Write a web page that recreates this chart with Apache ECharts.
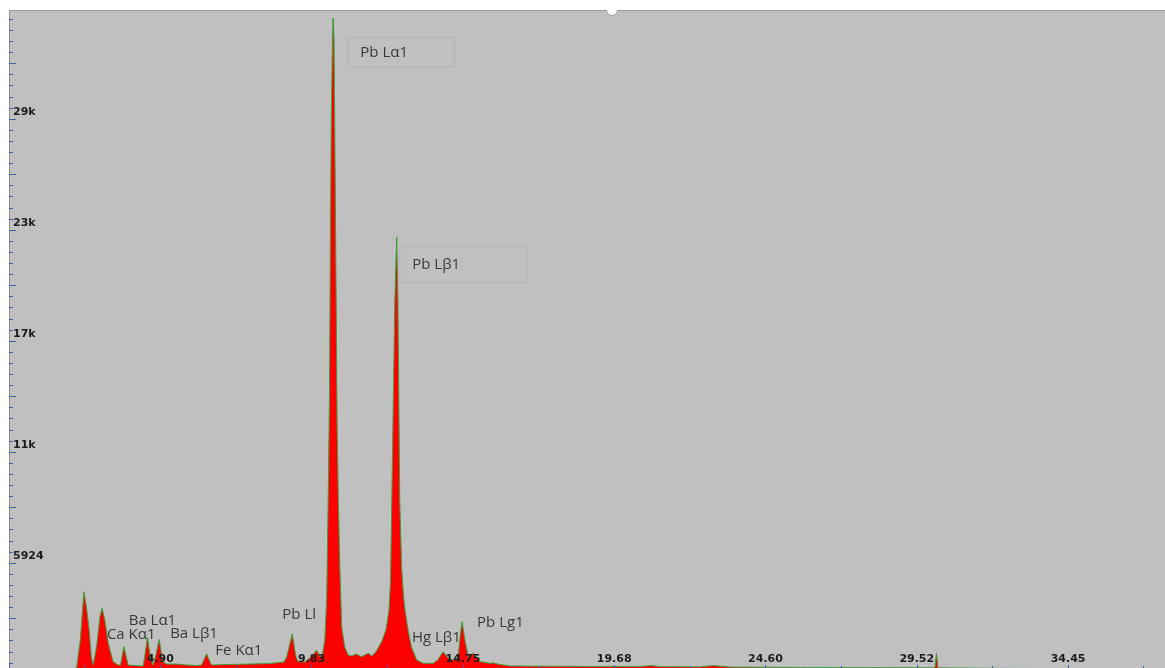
<!DOCTYPE html>
<html>
<head>
<meta charset="utf-8">
<script src="https://cdn.jsdelivr.net/npm/echarts@6/dist/echarts.min.js"></script>
<style>
  html, body { margin: 0; padding: 0; background: #ffffff; }
  #chart { width: 1165px; height: 668px; }
</style>
</head>
<body>
<div id="chart"></div>
<script>
// X-ray fluorescence spectrum: energy (keV) against counts
const energyKeV = [
  0.00, 0.60, 1.20, 1.70, 2.05, 2.20, 2.32, 2.44, 2.52, 2.61, 2.68, 2.74,
  2.85, 2.96, 3.03, 3.12, 3.23, 3.39, 3.55,
  3.63, 3.74, 3.88, 4.26,
  4.37, 4.51, 4.61, 4.69,
  4.78, 4.89, 5.00, 5.13,
  5.45, 5.78, 6.10,
  6.27, 6.43, 6.59,
  7.19, 7.84, 8.49, 8.95, 9.04, 9.22, 9.34, 9.41, 9.63, 9.90, 10.01, 10.12,
  10.20, 10.28, 10.34, 10.39, 10.43, 10.46, 10.49, 10.53, 10.55, 10.58, 10.61, 10.65, 10.68, 10.72, 10.77, 10.83, 10.93, 11.04,
  11.16, 11.31, 11.47, 11.69, 11.81, 11.94, 12.13, 12.27, 12.37, 12.42,
  12.46, 12.51, 12.56, 12.62, 12.66, 12.69, 12.72, 12.78, 12.84, 12.89, 12.99, 13.10, 13.27, 13.48, 13.81,
  13.96, 14.13, 14.30, 14.46,
  14.55, 14.62, 14.69, 14.75, 14.84, 14.95, 15.11, 15.33, 15.66, 15.75, 15.98,
  16.31, 16.96, 17.93, 19.24, 20.54, 20.93, 21.19, 22.49, 22.92, 23.47, 25.75, 29.00, 30.14, 30.19, 30.24, 32.26, 35.52, 37.63
];
const counts = [
  0, 60, 120, 180, 240, 320, 1815, 4390, 3590, 2350, 920, 480,
  1460, 3060, 3510, 2880, 1650, 660, 480,
  480, 1460, 480, 430,
  430, 1960, 750, 480,
  1010, 1850, 660, 530,
  530, 480, 450,
  480, 1070, 480,
  510, 530, 560, 640, 910, 2140, 920, 660, 640, 1010, 1280, 920,
  1010, 1820, 3950, 9290, 14620, 22630, 29570, 33840, 35010, 33840, 27970, 19960, 13560, 9290, 5710, 2510, 1440, 1010,
  960, 1070, 920, 1110, 960, 1170, 1720, 2350, 3420, 5020,
  9290, 14620, 19960, 23320, 19960, 14620, 9290, 5710, 4220, 3420, 2350, 1440, 750, 570, 570,
  750, 1190, 840, 750,
  800, 920, 2080, 2790, 1820, 920, 1110, 660, 570, 590, 510,
  430, 420, 410, 400, 400, 450, 390, 380, 450, 370, 350, 340, 330, 1120, 330, 300, 280, 270
];

// Axis tick labels
const xTickLabels = ['4.90', '9.83', '14.75', '19.68', '24.60', '29.52', '34.45'];
const yTickLabels = ['5924', '11k', '17k', '23k', '29k'];

// Element line labels and where each one sits (keV, counts)
const peakNames = ['Pb Lα1', 'Pb Lβ1', 'Ca Kα1', 'Ba Lα1', 'Ba Lβ1', 'Fe Kα1', 'Pb Ll', 'Hg Lβ1', 'Pb Lg1'];
const peakLabelAnchors = [
  [11.03, 33170], [12.72, 21855], [3.17, 2081], [3.88, 2845], [5.23, 2135],
  [6.70, 1244], [8.88, 3186], [13.10, 1937], [15.22, 2759]
];
const boxedLabels = { 'Pb Lα1': [7, 46, 7, 12], 'Pb Lβ1': [10, 67, 10, 12] };

const X_STEP = 4.925;
const Y_STEP = 2962;

const spectrum = energyKeV.map((e, i) => [e, counts[i]]);

const labelPoints = peakNames.map((name, i) => {
  const boxed = boxedLabels[name];
  return {
    name: name,
    value: peakLabelAnchors[i],
    label: {
      show: true,
      formatter: name,
      position: 'right',
      distance: 0,
      fontFamily: '"Open Sans", "Noto Sans", sans-serif',
      fontSize: 15,
      lineHeight: 15,
      color: '#141414',
      padding: boxed || 0,
      backgroundColor: boxed ? '#bfbfbf' : 'transparent',
      borderColor: boxed ? '#b3b3b3' : 'transparent',
      borderWidth: boxed ? 1 : 0
    }
  };
});

const chart = echarts.init(document.getElementById('chart'), null, { renderer: 'canvas' });

chart.setOption({
  animation: false,
  backgroundColor: '#ffffff',
  grid: {
    left: 9, right: 0, top: 10, height: 664,
    outerBoundsMode: 'none',
    containLabel: false,
    show: true, backgroundColor: '#c0c0c0', borderWidth: 0
  },
  xAxis: {
    type: 'value',
    min: 0,
    max: 37.63,
    interval: X_STEP,
    z: 10,
    axisLine: { show: false },
    splitLine: { show: false },
    axisTick: { show: true, inside: true, length: 9, lineStyle: { color: '#3f5fa8', width: 1 } },
    minorTick: { show: true, splitNumber: 2, length: 8, lineStyle: { color: '#3f5fa8', width: 1 } },
    axisLabel: {
      inside: true,
      margin: 9,
      fontFamily: '"DejaVu Sans", sans-serif',
      fontWeight: 'bold',
      fontSize: 11,
      color: '#1c1c1c',
      formatter: function (v) {
        const k = Math.round(v / X_STEP);
        if (Math.abs(v - k * X_STEP) > 0.01 || k < 1) return '';
        return xTickLabels[k - 1] || '';
      }
    }
  },
  yAxis: {
    type: 'value',
    min: 0,
    max: 35437,
    interval: Y_STEP,
    z: 10,
    axisLine: { show: true, lineStyle: { color: '#8f8f8f', width: 1 } },
    splitLine: { show: false },
    axisTick: { show: true, inside: true, length: 7, lineStyle: { color: '#3f5fa8', width: 1 } },
    minorTick: { show: true, splitNumber: 5, length: 4, lineStyle: { color: '#3f5fa8', width: 1 } },
    axisLabel: {
      inside: true,
      margin: 4,
      verticalAlign: 'bottom',
      padding: [0, 0, 1, 0],
      fontFamily: '"DejaVu Sans", sans-serif',
      fontWeight: 'bold',
      fontSize: 11,
      color: '#1c1c1c',
      formatter: function (v) {
        const k = Math.round(v / Y_STEP);
        if (Math.abs(v - k * Y_STEP) > 1 || k < 2 || k % 2 !== 0) return '';
        return yTickLabels[k / 2 - 1] || '';
      }
    }
  },
  series: [{
    type: 'line',
    data: spectrum,
    showSymbol: false,
    symbol: 'none',
    smooth: false,
    lineStyle: { color: '#3d9e3d', width: 1 },
    areaStyle: { color: '#ff0000', opacity: 1 },
    z: 2
  }, {
    // element line labels
    type: 'scatter',
    data: labelPoints,
    symbol: 'circle',
    symbolSize: 1,
    itemStyle: { color: 'rgba(0,0,0,0)' },
    silent: true,
    z: 5
  }],
  graphic: [
    // frame line along the top of the plot
    { type: 'line', z: 99, shape: { x1: 9, y1: 10.5, x2: 1165, y2: 10.5 }, style: { stroke: '#9a9a9a', lineWidth: 1 } },
    // resize handle
    { type: 'circle', z: 100, shape: { cx: 612, cy: 10, r: 5.5 }, style: { fill: '#ffffff', stroke: '#9a9a9a', lineWidth: 1 } },
    { type: 'rect', z: 101, shape: { x: 0, y: 0, width: 1165, height: 10 }, style: { fill: '#ffffff' } }
  ]
});
</script>
</body>
</html>
